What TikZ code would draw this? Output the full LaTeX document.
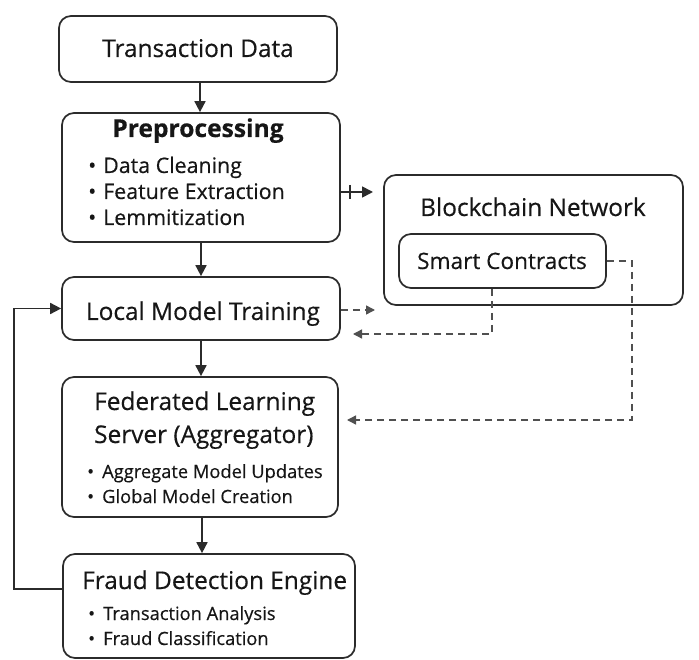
\documentclass[tikz,border=0pt]{standalone}
\usepackage{fontspec}
\setmainfont{Open Sans}[FakeBold=0.4]
\usetikzlibrary{arrows.meta,calc}
\definecolor{linec}{HTML}{2B2B2B}
\definecolor{textc}{HTML}{161616}
\definecolor{dashc}{HTML}{505050}
\tikzset{
  box/.style={draw=linec, line width=1.7pt, rounded corners=12pt, fill=white, inner sep=0pt},
  arr/.style={draw=linec, line width=1.7pt, -{Triangle[length=11pt,width=11pt]}},
  plain/.style={draw=linec, line width=1.7pt},
  dasharr/.style={draw=dashc, line width=1.4pt, dash pattern=on 7pt off 5pt, -{Triangle[length=9pt,width=9pt]}},
  ttl/.style={text=textc, inner sep=0pt, anchor=base, font=\fontsize{24.4}{29}\selectfont},
  ttlw/.style={text=textc, inner sep=0pt, anchor=base west, font=\fontsize{24.4}{29}\selectfont},
  bulA/.style={text=textc, inner sep=0pt, anchor=base west, font=\fontsize{21.4}{25}\selectfont},
  bulB/.style={text=textc, inner sep=0pt, anchor=base west, font=\fontsize{18.3}{22}\selectfont},
}
\begin{document}
\begin{tikzpicture}[x=1pt,y=-1pt]
\useasboundingbox[fill=white] (0,0) rectangle (699,660);
% boxes
\node[box, minimum width=278pt, minimum height=66pt] (td) at (198,49) {};
\node[box, minimum width=278pt, minimum height=129pt] (pre) at (201,177.5) {};
\node[box, minimum width=299pt, minimum height=130pt] (bc) at (533.5,240) {};
\node[box, minimum width=207pt, minimum height=54pt] (sc) at (502.5,261) {};
\node[box, minimum width=278pt, minimum height=63pt] (lmt) at (201,308.5) {};
\node[box, minimum width=276pt, minimum height=140pt] (fls) at (200,447) {};
\node[box, minimum width=292pt, minimum height=104pt] (fde) at (209,606) {};
% texts
\node[ttl] (tdt) at (198,57) {Transaction Data};
\node[ttl, font=\fontsize{24.6}{29}\selectfont\bfseries] (pret) at (198,137) {Preprocessing};
\node[bulA] (pb1) at (88,173) {•};
\node[bulA] (p1) at (103,173) {Data Cleaning};
\node[bulA] (pb2) at (88,199) {•};
\node[bulA] (p2) at (103,199) {Feature Extraction};
\node[bulA] (pb3) at (88,225) {•};
\node[bulA] (p3) at (103,225) {Lemmitization};
\node[ttl] (bct) at (533,216) {Blockchain Network};
\node[ttl, font=\fontsize{22.6}{27}\selectfont] (sct) at (502,269) {Smart Contracts};
\node[ttl] (lmtt) at (203,320) {Local Model Training};
\node[ttlw] (f1) at (94,410) {Federated Learning};
\node[ttlw] (f2) at (94,443) {Server (Aggregator)};
\node[bulB] (fb1) at (87,478) {•};
\node[bulB] (f3) at (102,478) {Aggregate Model Updates};
\node[bulB] (fb2) at (87,503) {•};
\node[bulB] (f4) at (102,503) {Global Model Creation};
\node[ttlw] (e1) at (82,589) {Fraud Detection Engine};
\node[bulB] (eb1) at (88,620) {•};
\node[bulB] (e2) at (103,620) {Transaction Analysis};
\node[bulB] (eb2) at (88,645) {•};
\node[bulB] (e3) at (103,645) {Fraud Classification};
% main arrows
\draw[arr] ([xshift=2pt]td.south) -- ([xshift=2pt]td.south |- pre.north);
\draw[arr] (pre.south) -- (pre.south |- lmt.north);
\draw[arr] (lmt.south) -- (lmt.south |- fls.north);
\draw[arr] ([xshift=2pt]fls.south) -- ([xshift=2pt]fls.south |- fde.north);
% preprocessing -> blockchain with tick
\coordinate (tickend) at (373,192);
\draw[arr] (pre.east |- tickend) -- (tickend);
\draw[plain] ($(pre.east |- tickend)+(9,-7)$) -- ++(0,14);
% dashed connectors
\coordinate (d1) at (375,310);
\draw[dasharr] (lmt.east |- d1) -- (d1);
\coordinate (d2) at (353,334);
\draw[dasharr] ([xshift=-10.5pt]sc.south) |- (d2);
\coordinate (d3c) at (632,420);
\coordinate (d3) at (347,420);
\draw[dasharr] (sc.east) -| (d3c) -- (d3);
% feedback loop
\coordinate (fb) at (14,589);
\draw[arr] (fde.west |- fb) -- (fb) |- (lmt.west);
\end{tikzpicture}
\end{document}
